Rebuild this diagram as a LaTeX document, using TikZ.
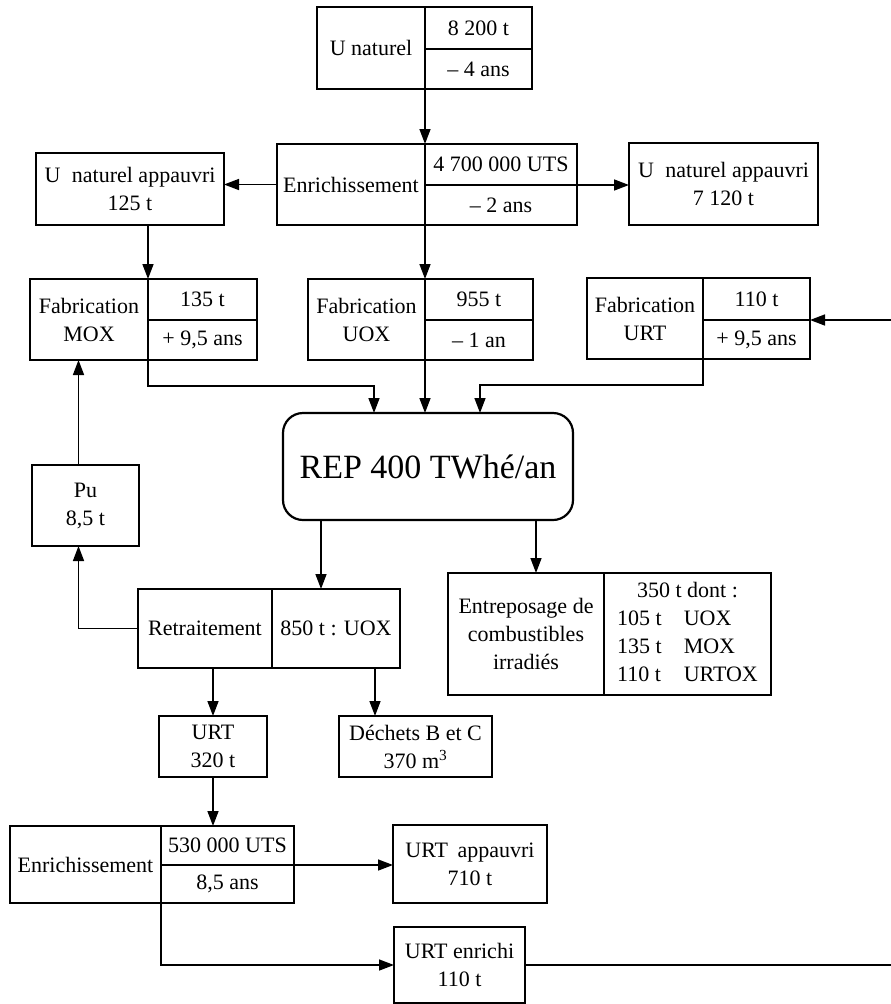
\documentclass[tikz,border=0pt]{standalone}
\usepackage{fontspec}
\setmainfont{Liberation Serif}
\usetikzlibrary{arrows.meta,calc}

% a framed cell given by its top-left and bottom-right corners
\newcommand\cellbox[7][]{%
  \pgfmathsetmacro\cw{#5-#3}\pgfmathsetmacro\ch{#6-#4}%
  \node[cell,#1,minimum width=\cw pt,minimum height=\ch pt,anchor=north west] (#2) at (#3,#4) {#7};}

\begin{document}
\begin{tikzpicture}[x=1pt,y=-1pt,
  cell/.style={draw,line width=2.2pt,inner sep=1pt,outer sep=0pt,align=center,
               font=\fontsize{22}{28}\selectfont},
  reactor/.style={cell,rounded corners=20pt,font=\fontsize{34}{40}\selectfont},
  link/.style={line width=1.5pt},
  arr/.style={link,-{Triangle[length=15pt,width=11pt]}}]

\useasboundingbox (0,0) rectangle (891,1004);

% natural uranium and first enrichment
\cellbox{unatL}{317}{7}{425}{89}{U naturel}
\cellbox{unatT}{425}{7}{532}{49}{8 200 t}
\cellbox{unatB}{425}{49}{532}{89}{– 4 ans}

\cellbox{enrL}{277}{144}{425}{225}{Enrichissement}
\cellbox{enrT}{425}{144}{577}{185}{4 700 000 UTS}
\cellbox{enrB}{425}{185}{577}{225}{– 2 ans}

\cellbox{appL}{36}{153}{224}{225}{U\hspace{6pt} naturel appauvri\\125 t}
\cellbox{appR}{629}{143}{818}{225}{U\hspace{6pt} naturel appauvri\\7 120 t}

% fuel fabrication
\cellbox{moxL}{30}{279}{148}{360}{Fabrication\\MOX}
\cellbox{moxT}{148}{279}{257}{320}{135 t}
\cellbox{moxB}{148}{320}{257}{360}{+ 9,5 ans}

\cellbox{uoxL}{308}{279}{425}{360}{Fabrication\\UOX}
\cellbox{uoxT}{425}{279}{533}{320}{955 t}
\cellbox{uoxB}{425}{320}{533}{360}{– 1 an}

\cellbox{urtL}{587}{278}{703}{359}{Fabrication\\URT}
\cellbox{urtT}{703}{278}{810}{320}{110 t}
\cellbox{urtB}{703}{320}{810}{359}{+ 9,5 ans}

% reactors
\cellbox[reactor]{rep}{283}{413}{573}{520}{REP 400 TWhé/an}

% back end
\cellbox{pu}{32}{465}{139}{546}{Pu\\8,5 t}
\cellbox{retL}{138}{589}{272}{668}{Retraitement}
\cellbox{retR}{272}{589}{400}{668}{850 t : UOX}

\cellbox{entL}{448}{573}{604}{695}{Entreposage de\\combustibles\\irradiés}
\cellbox{entR}{604}{573}{771}{695}{%
  \begin{tabular}{@{}l@{\hspace{22pt}}l@{}}
    \multicolumn{2}{c}{350 t dont :}\\
    105 t & UOX\\
    135 t & MOX\\
    110 t & URTOX
  \end{tabular}}

\cellbox{urt}{159}{716}{267}{777}{URT\\320 t}
\cellbox{dech}{339}{716}{492}{777}{Déchets B et C\\370 m\textsuperscript{3}}

% re-enrichment of reprocessed uranium
\cellbox{enr2L}{10}{826}{161}{903}{Enrichissement}
\cellbox{enr2T}{161}{826}{294}{865}{530 000 UTS}
\cellbox{enr2B}{161}{865}{294}{903}{8,5 ans}

\cellbox{urtapp}{393}{825}{547}{903}{URT\hspace{4pt} appauvri\\710 t}
\cellbox{urtenr}{394}{927}{525}{1003}{URT enrichi\\110 t}

% helper points on box edges
\coordinate (repA) at ([xshift=91pt]rep.north west);
\coordinate (repC) at ([xshift=197pt]rep.north west);
\coordinate (r1) at ([xshift=38pt]rep.south west);
\coordinate (e1) at ([xshift=-37pt]rep.south east);
\coordinate (r2) at ([xshift=-25pt]retR.south east);
\coordinate (pN) at ([xshift=-7pt]pu.north);
\coordinate (pS) at ([xshift=-7pt]pu.south);
\coordinate (inF) at (891,320);
\coordinate (outR) at (891,965);

% flows
\draw[arr] (unatL.south east) -- (enrL.north east);
\draw[arr] (enrL.west) -- (enrL.west -| appL.east);
\draw[arr] (enrT.south east) -- (enrT.south east -| appR.west);
\draw[arr] (moxL.north east |- appL.south) -- (moxL.north east);
\draw[arr] (enrL.south east) -- (uoxL.north east);

\draw[arr] (moxL.south east) -- ++(0,26) -| (repA);
\draw[arr] (uoxL.south east) -- (uoxL.south east |- rep.north);
\draw[arr] (urtL.south east) -- ++(0,26) -| (repC);
\draw[arr] (inF) -- (urtT.south east);

\draw[arr] (r1) -- (r1 |- retR.north);
\draw[arr] (e1) -- (e1 |- entL.north);
\draw[arr] (retL.west) -| (pS);
\draw[arr] (pN) -- (pN |- moxL.south);
\draw[arr] (urt.north |- retL.south) -- (urt.north);
\draw[arr] (r2) -- (r2 |- dech.north);

\draw[arr] (urt.south) -- (urt.south |- enr2T.north);
\draw[arr] (enr2T.south east) -- (enr2T.south east -| urtapp.west);
\draw[arr] (enr2L.south east) |- (urtenr.west);
\draw[link] (urtenr.east) -- (outR);
\end{tikzpicture}
\end{document}
